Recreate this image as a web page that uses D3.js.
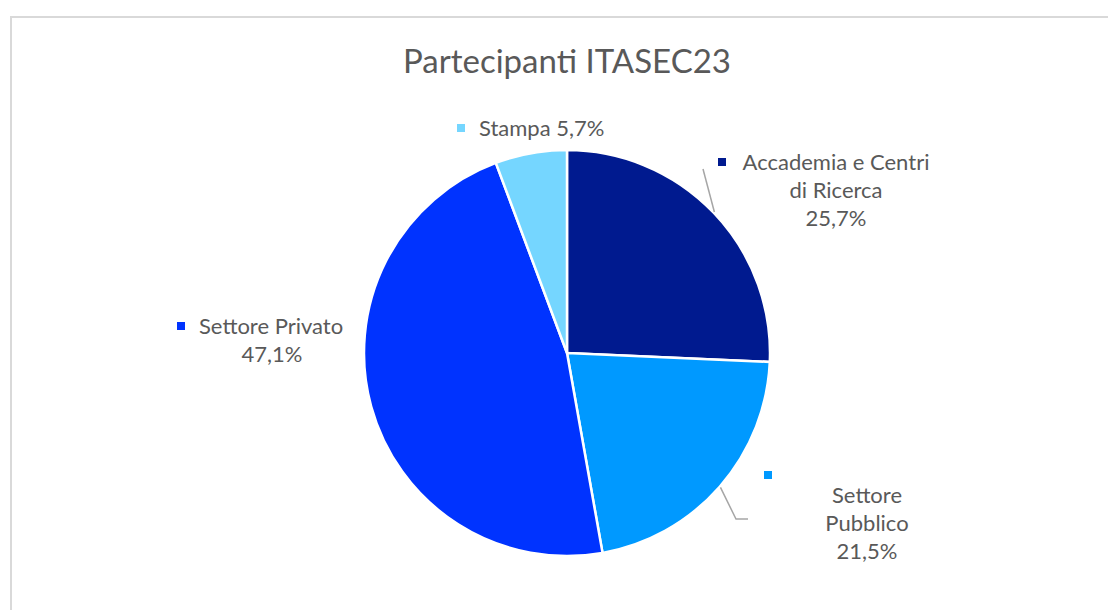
<!DOCTYPE html>
<html><head><meta charset="utf-8">
<script src="https://cdn.jsdelivr.net/npm/d3@7"></script>
<style>body{margin:0;background:#fff}svg{display:block}text{font-family:Lato,"Open Sans",sans-serif;fill:#595959}</style>
</head><body><svg id="c" width="1108" height="610"></svg>
<script>
const categories = ["Accademia e Centri di Ricerca","Settore Pubblico","Settore Privato","Stampa"];
const values = [25.7, 21.5, 47.1, 5.7];
const labelLines = [["Accademia e Centri","di Ricerca","25,7%"],["Settore","Pubblico","21,5%"],["Settore Privato","47,1%"],["Stampa 5,7%"]];
const colors = ["#001A8F","#0099FF","#0033FF","#75D6FF"];
const title = "Partecipanti ITASEC23";

const svg = d3.select("#c");
const W = 1108, H = 610;
svg.append("rect").attr("x",11).attr("y",17).attr("width",W+10).attr("height",H+10)
  .attr("fill","#fff").attr("stroke","#d9d9d9").attr("stroke-width",2);
svg.append("text").attr("x",567).attr("y",73).attr("text-anchor","middle")
  .style("font-size","33px").text(title);

const cx = 567, cy = 353, R = 203;
const pie = d3.pie().sort(null).value(d=>d)(values);
const arc = d3.arc().innerRadius(0).outerRadius(R);
const g = svg.append("g").attr("transform",`translate(${cx},${cy})`);
g.selectAll("path").data(pie).join("path").attr("d",arc)
  .attr("fill",(d,i)=>colors[i]).attr("stroke","#fff").attr("stroke-width",2.5);

// label layout (offsets relative to pie centre)
const layout = [
  {marker:[151,-195], lines:[[269,-183],[269,-155],[269,-127]], anchor:"middle", leader:[[136,-184]]},
  {marker:[197,118], lines:[[300,150],[300,178],[300,206]], anchor:"middle", leader:[[169,166],[181,166]]},
  {marker:[-390,-31], lines:[[-368,-19],[-295,9]], anchor:"middle", leader:null},
  {marker:[-110,-229], lines:[[-88,-217]], anchor:"start", leader:null}
];
const fs = 22;
pie.forEach((d,i)=>{
  const L = layout[i];
  g.append("rect").attr("x",L.marker[0]).attr("y",L.marker[1]).attr("width",8).attr("height",8).attr("fill",colors[i]);
  labelLines[i].forEach((t,j)=>{
    const p = L.lines[j];
    const anchor = (i===2 && j===0) ? "start" : L.anchor;
    g.append("text").attr("x",p[0]).attr("y",p[1]).attr("text-anchor",anchor).style("font-size",fs+"px").text(t);
  });
  if(L.leader){
    const a = (d.startAngle+d.endAngle)/2, r0 = R+1;
    const pts = [[r0*Math.sin(a), -r0*Math.cos(a)], ...L.leader];
    g.append("path").attr("d",d3.line()(pts)).attr("fill","none").attr("stroke","#a6a6a6").attr("stroke-width",1.5);
  }
});
</script></body></html>
